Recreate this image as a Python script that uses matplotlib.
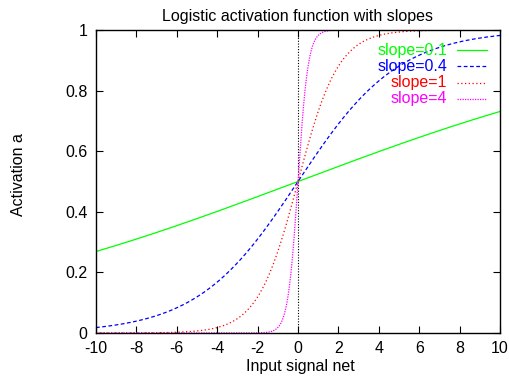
import numpy as np
import matplotlib
matplotlib.use("Agg")
import matplotlib.pyplot as plt
from matplotlib.lines import Line2D

slopes = [0.1, 0.4, 1, 4]
labels = ["slope=0.1", "slope=0.4", "slope=1", "slope=4"]
colors = ["#00ff00", "#0000ff", "#ff0000", "#ff00ff"]
styles = ["-", (0, (3, 2)), (0, (1, 2)), (0, (1, 1))]
xticks = [-10, -8, -6, -4, -2, 0, 2, 4, 6, 8, 10]
yticks = [0, 0.2, 0.4, 0.6, 0.8, 1]
ytick_labels = ["0", "0.2", "0.4", "0.6", "0.8", "1"]

plt.rcParams['font.family'] = ['Liberation Sans', 'DejaVu Sans']
FS = 11.5

fig = plt.figure(figsize=(5.10, 3.76), dpi=100)
ax = fig.add_axes([96/510, 1-333/376, (500-96)/510, (333-30)/376])

x = np.linspace(-10, 10, 801)
ax.axvline(0, color="black", lw=0.8, linestyle=(0, (1, 1.5)))
for s, c, ls in zip(slopes, colors, styles):
    ax.plot(x, 1/(1+np.exp(-s*x)), color=c, lw=0.9, linestyle=ls)

ax.set_xlim(-10, 10)
ax.set_ylim(0, 1)
ax.set_xticks(xticks)
ax.set_xticklabels([str(t) for t in xticks])
ax.set_yticks(yticks)
ax.set_yticklabels(ytick_labels)
ax.tick_params(direction="in", top=True, right=True, length=5, width=0.8,
               labelsize=FS, pad=6)
for sp in ax.spines.values():
    sp.set_linewidth(1.0)

fig.text(298/510, 1-16/376, "Logistic activation function with slopes",
         fontsize=FS, ha="center", va="center")
fig.text(300/510, 1-367/376, "Input signal net", fontsize=FS,
         ha="center", va="center")
fig.text(19/510, 1-175/376, "Activation a", rotation=90, fontsize=FS,
         ha="center", va="center")

ys = [50, 66, 83, 99]
for lab, c, ls, yy in zip(labels, colors, styles, ys):
    fy = 1 - yy/376
    fig.text(447/510, fy, lab, color=c, fontsize=FS, ha="right", va="center")
    fig.add_artist(Line2D([457/510, 487/510], [fy, fy], color=c, lw=0.9,
                          linestyle=ls, transform=fig.transFigure))

fig.savefig("out.png", dpi=100)
